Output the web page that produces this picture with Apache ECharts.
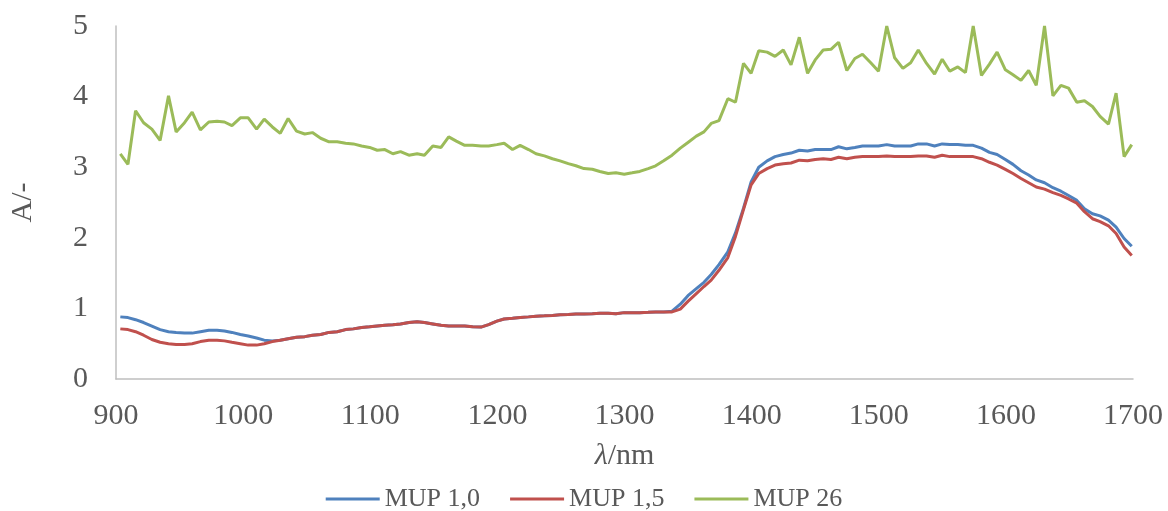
<!DOCTYPE html>
<html>
<head>
<meta charset="utf-8">
<script src="https://cdn.jsdelivr.net/npm/echarts@6/dist/echarts.min.js"></script>
<style>
html,body{margin:0;padding:0;background:#fff;}
#chart{width:1168px;height:511px;}
</style>
</head>
<body>
<div id="chart"></div>
<script>
var wavelengths = [903.4,909.4,915.4,921.7,928.2,934.7,941.3,947.3,953.9,959.9,966.4,973.0,979.5,985.3,991.2,997.8,1004.0,1010.6,1016.6,1023.0,
1029.2,1035.4,1042.0,1048.5,1054.5,1061.0,1067.6,1074.0,1080.6,1086.7,1093.2,1099.5,1105.5,1111.5,1117.8,1123.8,1130.4,1136.9,1142.6,1149.2,
1155.7,1161.7,1167.7,1174.3,1180.5,1187.1,1193.1,1199.6,1205.3,1211.9,1217.9,1224.5,1230.4,1237.0,1243.3,1249.3,1255.8,1261.8,1268.1,1274.7,
1280.6,1287.2,1293.2,1299.8,1306.0,1312.0,1318.6,1324.5,1330.8,1337.4,1343.9,1349.9,1356.5,1362.5,1368.2,1374.3,1381.3,1387.3,1393.6,1399.6,
1405.6,1412.2,1418.4,1424.9,1431.0,1437.5,1444.0,1450.0,1456.3,1462.4,1468.4,1474.9,1481.2,1487.2,1493.7,1499.8,1506.3,1512.5,1519.0,1525.1,
1531.1,1537.6,1543.9,1549.9,1555.9,1562.2,1568.2,1574.3,1580.8,1587.1,1593.1,1599.6,1605.6,1611.9,1617.9,1623.9,1630.4,1637.0,1643.3,1649.3,
1655.8,1661.8,1668.1,1674.1,1680.7,1686.7,1693.0,1699.0];

var mup10 = [0.88,0.87,0.84,0.80,0.75,0.70,0.67,0.66,0.65,0.65,0.67,0.69,0.69,0.68,0.66,0.63,0.61,0.58,0.55,0.54,
0.55,0.57,0.59,0.60,0.62,0.63,0.66,0.67,0.70,0.71,0.73,0.74,0.75,0.76,0.77,0.78,0.80,0.81,0.80,0.78,
0.76,0.75,0.75,0.75,0.74,0.735,0.77,0.82,0.85,0.86,0.87,0.88,0.89,0.895,0.90,0.91,0.915,0.92,0.92,0.925,
0.93,0.93,0.925,0.94,0.94,0.94,0.945,0.95,0.95,0.96,1.06,1.18,1.28,1.37,1.48,1.62,1.80,2.07,2.42,2.79,
3.00,3.09,3.15,3.18,3.20,3.24,3.23,3.25,3.25,3.25,3.29,3.26,3.28,3.30,3.30,3.30,3.32,3.30,3.30,3.30,
3.33,3.33,3.30,3.33,3.32,3.32,3.31,3.31,3.27,3.21,3.18,3.11,3.04,2.95,2.89,2.82,2.78,2.71,2.66,2.60,
2.53,2.41,2.34,2.31,2.25,2.15,1.99,1.88];

var mup15 = [0.71,0.70,0.67,0.62,0.56,0.52,0.50,0.49,0.49,0.50,0.53,0.55,0.55,0.54,0.52,0.50,0.48,0.48,0.50,0.53,
0.55,0.57,0.59,0.60,0.62,0.63,0.66,0.67,0.70,0.71,0.73,0.74,0.75,0.76,0.77,0.78,0.80,0.81,0.80,0.78,
0.76,0.75,0.75,0.75,0.74,0.735,0.77,0.82,0.85,0.86,0.87,0.88,0.89,0.895,0.90,0.91,0.915,0.92,0.92,0.925,
0.93,0.93,0.925,0.94,0.94,0.94,0.945,0.95,0.95,0.95,0.99,1.10,1.21,1.31,1.40,1.54,1.72,2.02,2.40,2.75,
2.91,2.98,3.03,3.05,3.06,3.10,3.09,3.11,3.12,3.11,3.14,3.12,3.14,3.15,3.15,3.15,3.16,3.15,3.15,3.15,
3.16,3.16,3.14,3.17,3.15,3.15,3.15,3.15,3.12,3.07,3.03,2.97,2.91,2.84,2.78,2.72,2.69,2.64,2.60,2.55,
2.49,2.37,2.27,2.23,2.17,2.06,1.87,1.75];

var mup26 = [3.19,3.04,3.80,3.63,3.54,3.38,4.01,3.50,3.63,3.78,3.53,3.64,3.65,3.64,3.59,3.70,3.70,3.54,3.68,3.57,
3.48,3.69,3.51,3.47,3.49,3.41,3.36,3.36,3.34,3.33,3.30,3.28,3.24,3.25,3.19,3.22,3.17,3.19,3.17,3.30,
3.28,3.43,3.37,3.31,3.31,3.30,3.30,3.32,3.34,3.25,3.31,3.25,3.19,3.16,3.12,3.09,3.05,3.02,2.98,2.97,
2.94,2.91,2.92,2.90,2.92,2.94,2.98,3.02,3.09,3.17,3.27,3.35,3.44,3.50,3.62,3.66,3.97,3.92,4.47,4.33,
4.65,4.63,4.57,4.66,4.45,4.84,4.33,4.52,4.66,4.67,4.77,4.37,4.54,4.60,4.48,4.36,5.00,4.55,4.40,4.48,
4.66,4.47,4.32,4.53,4.36,4.42,4.34,5.00,4.30,4.46,4.63,4.38,4.31,4.23,4.37,4.16,5.00,4.01,4.16,4.12,
3.92,3.94,3.86,3.72,3.61,4.05,3.15,3.32];

var seriesNames = ['MUP 1,0', 'MUP 1,5', 'MUP 26'];
var seriesColors = ['#4F81BD', '#C0504D', '#9BBB59'];
var yTitle = 'A/-';

function pairs(ys) {
  return wavelengths.map(function (x, i) { return [x, ys[i]]; });
}

var FONT = '"Liberation Serif", "Times New Roman", serif';
var TXT = '#595959';
var chart = echarts.init(document.getElementById('chart'), null, {renderer: 'canvas'});
var allData = [mup10, mup15, mup26];
chart.setOption({
  animation: false,
  backgroundColor: '#ffffff',
  color: seriesColors,
  grid: {left: 113, right: 35, top: 26, bottom: 132, containLabel: false},
  legend: {
    top: 486, left: 'center', padding: 0,
    icon: 'rect', itemWidth: 54, itemHeight: 3, itemGap: 30,
    textStyle: {fontFamily: FONT, fontSize: 26, color: TXT, padding: [0, 0, 0, 0]},
    data: seriesNames
  },
  xAxis: {
    type: 'value', min: 900, max: 1700, interval: 100,
    name: '{i|λ}/nm', nameLocation: 'middle', nameGap: 62,
    nameTextStyle: {fontFamily: FONT, fontSize: 30, color: TXT,
      rich: {i: {fontFamily: FONT, fontSize: 30, fontStyle: 'italic', color: TXT}}},
    axisLine: {show: true, lineStyle: {color: '#BFBFBF', width: 1.5}},
    axisTick: {show: false},
    splitLine: {show: false},
    axisLabel: {fontFamily: FONT, fontSize: 30, color: TXT, margin: 22,
      formatter: function (v) { return String(v); }}
  },
  yAxis: {
    type: 'value', min: 0, max: 5, interval: 1,
    name: yTitle, nameLocation: 'middle', nameGap: 78, nameRotate: 90,
    nameTextStyle: {fontFamily: FONT, fontSize: 30, color: TXT},
    axisLine: {show: true, lineStyle: {color: '#BFBFBF', width: 1.5}},
    axisTick: {show: false},
    splitLine: {show: false},
    axisLabel: {fontFamily: FONT, fontSize: 30, color: TXT, margin: 28}
  },
  series: seriesNames.map(function (n, k) {
    return {
      name: n, type: 'line', data: pairs(allData[k]),
      showSymbol: false, symbol: 'none', clip: true,
      lineStyle: {width: 3, color: seriesColors[k]},
      itemStyle: {color: seriesColors[k]}
    };
  })
});
</script>
</body>
</html>
